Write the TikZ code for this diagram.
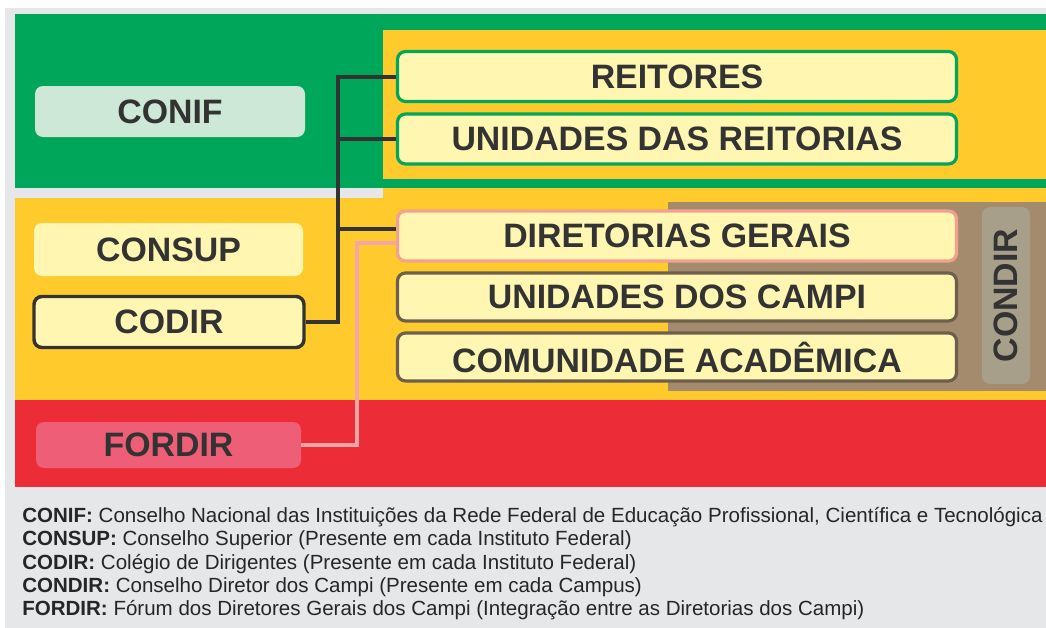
\documentclass[tikz,border=0pt]{standalone}
\usepackage{fontspec}
\setmainfont{Liberation Sans}
\definecolor{bggray}{HTML}{E6E7E9}
\definecolor{cgreen}{HTML}{00A659}
\definecolor{cyellow}{HTML}{FFCB2C}
\definecolor{cred}{HTML}{EC2D38}
\definecolor{cbrown}{HTML}{A58B6D}
\definecolor{lyellow}{HTML}{FFF6B2}
\definecolor{lgreen}{HTML}{CDE8D6}
\definecolor{cpink}{HTML}{EE5F77}
\definecolor{lpink}{HTML}{F6A5A6}
\definecolor{salmon}{HTML}{F4A08E}
\definecolor{dbrown}{HTML}{6E5F4D}
\definecolor{condirf}{HTML}{A79F8A}
\definecolor{ink}{HTML}{333333}
\definecolor{legink}{HTML}{262626}
\tikzset{
  lbl/.style={font=\fontsize{25.4}{28}\selectfont\bfseries, text=ink, inner sep=0pt, rounded corners=6pt},
  whitebox/.style={lbl, fill=lyellow, line width=2.4pt},
  conn/.style={draw=ink, line width=3pt},
  pinkconn/.style={draw=lpink, line width=3pt},
  leg/.style={font=\fontsize{15.4}{18}\selectfont, text=legink, anchor=base west, inner sep=0pt},
}
\begin{document}
\begin{tikzpicture}[x=0.75pt,y=-0.75pt]
\useasboundingbox (0,0) rectangle (1046,628);
\fill[white] (0,0) rectangle (1046,628);
\fill[bggray] (5,8) rectangle (1046,628);
% bands
\fill[cgreen] (15,14) rectangle (1046,188);
\fill[cyellow] (383,30) rectangle (1046,179);
\fill[cyellow] (15,198) rectangle (1046,400);
\fill[cyellow] (383,188) rectangle (1046,198);
\fill[cred] (15,400) rectangle (1046,487);
\fill[cbrown] (668,202) rectangle (1046,391);
% left boxes
\node[lbl, fill=lgreen, minimum width=270*0.75pt, minimum height=51*0.75pt] (conif) at (170,111.5) {CONIF};
\node[whitebox, draw=none, minimum width=269*0.75pt, minimum height=53*0.75pt] (consup) at (168.5,249.5) {CONSUP};
\node[whitebox, draw=ink, line width=2.6pt, minimum width=270*0.75pt, minimum height=51*0.75pt] (codir) at (169,322) {CODIR};
\node[lbl, fill=cpink, minimum width=265*0.75pt, minimum height=46*0.75pt] (fordir) at (168.5,445) {FORDIR};
% right boxes
\node[whitebox, draw=cgreen, minimum width=559*0.75pt, minimum height=50*0.75pt] (reit) at (677,76.5) {REITORES};
\node[whitebox, draw=cgreen, minimum width=559*0.75pt, minimum height=50*0.75pt] (unre) at (677,139) {UNIDADES DAS REITORIAS};
\node[whitebox, draw=salmon, minimum width=559*0.75pt, minimum height=50*0.75pt] (dirg) at (677,236) {DIRETORIAS GERAIS};
\node[whitebox, draw=dbrown, minimum width=559*0.75pt, minimum height=48*0.75pt] (unca) at (677,297) {UNIDADES DOS CAMPI};
\node[whitebox, draw=dbrown, minimum width=559*0.75pt, minimum height=48*0.75pt] (coac) at (677,357) {COMUNIDADE ACADÊMICA};
\node[lbl, fill=condirf, minimum width=48*0.75pt, minimum height=177*0.75pt] (condirbox) at (1006,295.5) {};
\node[lbl, rotate=90] (condir) at (condirbox.center) {CONDIR};
% connectors
\coordinate (vx) at (338,0);
\coordinate (px) at (357,0);
\coordinate (dtop) at ([yshift=5.25pt]dirg.west);
\coordinate (dbot) at ([yshift=-5.25pt]dirg.west);
\draw[conn] (codir.east) -- (vx |- codir.east) -- (vx |- reit.west) -- (reit.west);
\draw[conn] (vx |- unre.west) -- (unre.west);
\draw[conn] (vx |- dtop) -- (dtop);
\draw[pinkconn] (fordir.east) -- (px |- fordir.east) -- (px |- dbot) -- (dbot);
% legend
\node[leg] (l1) at (22,522) {\textbf{CONIF:} Conselho Nacional das Instituições da Rede Federal de Educação Profissional, Científica e Tecnológica};
\node[leg] (l2) at (22,545) {\textbf{CONSUP:} Conselho Superior (Presente em cada Instituto Federal)};
\node[leg] (l3) at (22,569) {\textbf{CODIR:} Colégio de Dirigentes (Presente em cada Instituto Federal)};
\node[leg] (l4) at (22,592) {\textbf{CONDIR:} Conselho Diretor dos Campi (Presente em cada Campus)};
\node[leg] (l5) at (22,615) {\textbf{FORDIR:} Fórum dos Diretores Gerais dos Campi (Integração entre as Diretorias dos Campi)};
\end{tikzpicture}
\end{document}
